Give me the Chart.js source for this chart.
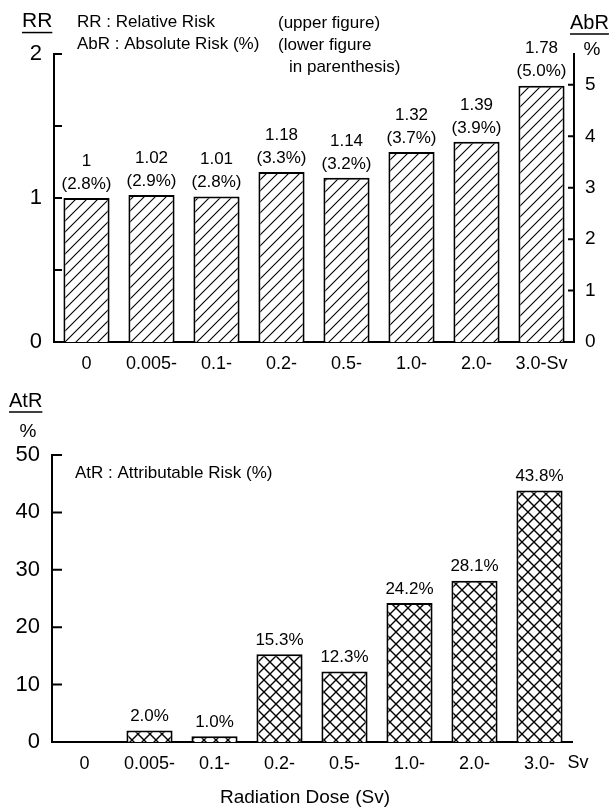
<!DOCTYPE html>
<html>
<head>
<meta charset="utf-8">
<script src="https://cdn.jsdelivr.net/npm/chart.js@4.4.0/dist/chart.umd.min.js"></script>
<style>
    html, body { margin: 0; padding: 0; background: #fff; }
    #wrap { position: relative; width: 616px; height: 810px; }
    canvas { position: absolute; left: 0; }
    #rrChart { top: 0; }
    #atrChart { top: 380px; }
</style>
</head>
<body>
<div id="wrap">
    <canvas id="rrChart" width="616" height="380"></canvas>
    <canvas id="atrChart" width="616" height="430"></canvas>
</div>
<script>
// Data
const doses = ['0', '0.005-', '0.1-', '0.2-', '0.5-', '1.0-', '2.0-', '3.0-'];
const relativeRisk = [1, 1.02, 1.01, 1.18, 1.14, 1.32, 1.39, 1.78];
const absoluteRisk = [2.8, 2.9, 2.8, 3.3, 3.2, 3.7, 3.9, 5.0];
const attributableRisk = [0, 2.0, 1.0, 15.3, 12.3, 24.2, 28.1, 43.8];
const rrRange = [0, 2];
const atrRange = [0, 50];

const FONT = '"Liberation Sans", Arial, Helvetica, sans-serif';
Chart.defaults.font.family = FONT;
Chart.defaults.color = '#000';

// right axis (AbR) is tied to RR through the baseline group: 1 <-> 2.8%
const abrMax = rrRange[1] * absoluteRisk[0] / relativeRisk[0];

// Hatch patterns
function makePattern(size, drawFn) {
    const c = document.createElement('canvas');
    c.width = size;
    c.height = size;
    const g = c.getContext('2d');
    g.fillStyle = '#fff';
    g.fillRect(0, 0, size, size);
    g.strokeStyle = '#000';
    drawFn(g, size);
    return c.getContext('2d').createPattern(c, 'repeat');
}

const diagonal = makePattern(11, (g, s) => {
    g.lineWidth = 1.1;
    g.beginPath();
    g.moveTo(-1, s + 1); g.lineTo(s + 1, -1);
    g.moveTo(-1, 1); g.lineTo(1, -1);
    g.moveTo(s - 1, s + 1); g.lineTo(s + 1, s - 1);
    g.stroke();
});

const crossHatch = makePattern(12, (g, s) => {
    g.lineWidth = 1.4;
    g.beginPath();
    g.moveTo(-1, s + 1); g.lineTo(s + 1, -1);
    g.moveTo(-1, -1); g.lineTo(s + 1, s + 1);
    g.stroke();
});

function text(ctx, str, x, y, size, align) {
    ctx.font = size + 'px ' + FONT;
    ctx.textAlign = align || 'left';
    ctx.textBaseline = 'middle';
    ctx.fillStyle = '#000';
    ctx.fillText(str, x, y);
}

function underlined(ctx, str, x, y, size) {
    text(ctx, str, x, y, size, 'left');
    const w = ctx.measureText(str).width;
    ctx.strokeStyle = '#000';
    ctx.lineWidth = 1.5;
    ctx.beginPath();
    ctx.moveTo(x, y + size * 0.55);
    ctx.lineTo(x + w, y + size * 0.55);
    ctx.stroke();
}

// inward tick marks drawn from each scale's own tick positions
function inwardTicks(ctx, scale, len, dir) {
    const x = dir > 0 ? scale.right : scale.left;
    ctx.strokeStyle = '#000';
    ctx.lineWidth = 2;
    ctx.beginPath();
    scale.ticks.forEach(t => {
        if (t.value === scale.min || t.value > scale.max - 0.5 && t.value !== Math.round(t.value)) return;
        const y = scale.getPixelForValue(t.value);
        ctx.moveTo(x, y);
        ctx.lineTo(x + dir * len, y);
    });
    ctx.stroke();
}

const rrDecor = {
    id: 'rrDecor',
    afterDraw(chart) {
        const ctx = chart.ctx;
        ctx.save();
        inwardTicks(ctx, chart.scales.y, 8, 1);
        inwardTicks(ctx, chart.scales.y1, 6, -1);

        const meta = chart.getDatasetMeta(0);
        meta.data.forEach((bar, i) => {
            text(ctx, String(relativeRisk[i]), bar.x, bar.y - 37, 17, 'center');
            text(ctx, '(' + absoluteRisk[i].toFixed(1) + '%)', bar.x, bar.y - 14, 17, 'center');
        });

        underlined(ctx, 'RR', 22, 21, 21);
        underlined(ctx, 'AbR', 570, 23, 20);
        text(ctx, '%', 592, 50, 19, 'center');

        text(ctx, 'RR : Relative Risk', 77, 22, 17);
        text(ctx, 'AbR : Absolute Risk (%)', 77, 44, 17);
        text(ctx, '(upper figure)', 278, 23, 17);
        text(ctx, '(lower figure', 278, 45, 17);
        text(ctx, 'in parenthesis)', 289, 67, 17);
        ctx.restore();
    }
};

const atrDecor = {
    id: 'atrDecor',
    afterDraw(chart) {
        const ctx = chart.ctx;
        ctx.save();
        inwardTicks(ctx, chart.scales.y, 10, 1);

        const meta = chart.getDatasetMeta(0);
        meta.data.forEach((bar, i) => {
            if (!attributableRisk[i]) return;
            text(ctx, attributableRisk[i].toFixed(1) + '%', bar.x, bar.y - 14, 17, 'center');
        });

        underlined(ctx, 'AtR', 9, 21, 20);
        text(ctx, '%', 28, 52, 19, 'center');
        text(ctx, 'AtR : Attributable Risk (%)', 75, 93, 17);
        text(ctx, 'Sv', 578, 383, 18, 'center');
        text(ctx, 'Radiation Dose (Sv)', 305, 418, 19, 'center');
        ctx.restore();
    }
};

const axisBorder = { display: true, color: '#000', width: 2 };
const noGrid = { display: false, drawTicks: false };

new Chart(document.getElementById('rrChart'), {
    type: 'bar',
    data: {
        labels: doses,
        datasets: [{
            data: relativeRisk,
            backgroundColor: diagonal,
            borderColor: '#000',
            borderWidth: 2,
            barPercentage: 0.71,
            categoryPercentage: 1
        }]
    },
    options: {
        responsive: false,
        animation: false,
        layout: { padding: { top: 54, left: 0, right: 0, bottom: 0 } },
        plugins: { legend: { display: false }, tooltip: { enabled: false } },
        scales: {
            x: {
                grid: noGrid,
                border: axisBorder,
                ticks: {
                    autoSkip: false,
                    maxRotation: 0,
                    padding: 11,
                    font: { size: 18 },
                    callback: (v, i) => i === doses.length - 1 ? doses[i] + 'Sv' : doses[i]
                },
                afterFit: s => { s.height = 38; }
            },
            y: {
                position: 'left',
                min: rrRange[0],
                max: rrRange[1],
                grid: noGrid,
                border: axisBorder,
                ticks: {
                    stepSize: 0.5,
                    padding: 12,
                    font: { size: 22 },
                    callback: v => Number.isInteger(v) ? v : ''
                },
                afterFit: s => { s.width = 54; }
            },
            y1: {
                position: 'right',
                min: 0,
                max: abrMax,
                grid: noGrid,
                border: axisBorder,
                ticks: {
                    stepSize: 1,
                    padding: 11,
                    font: { size: 19 },
                    callback: v => Number.isInteger(v) ? v : ''
                },
                afterFit: s => { s.width = 42; }
            }
        }
    },
    plugins: [rrDecor]
});

new Chart(document.getElementById('atrChart'), {
    type: 'bar',
    data: {
        labels: doses,
        datasets: [{
            data: attributableRisk,
            backgroundColor: crossHatch,
            borderColor: '#000',
            borderWidth: 2,
            barPercentage: 0.71,
            categoryPercentage: 1
        }]
    },
    options: {
        responsive: false,
        animation: false,
        layout: { padding: { top: 75, left: 0, right: 44, bottom: 0 } },
        plugins: { legend: { display: false }, tooltip: { enabled: false } },
        scales: {
            x: {
                grid: noGrid,
                border: axisBorder,
                ticks: { autoSkip: false, maxRotation: 0, padding: 11, font: { size: 18 } },
                afterFit: s => { s.height = 68; }
            },
            y: {
                min: atrRange[0],
                max: atrRange[1],
                grid: noGrid,
                border: axisBorder,
                ticks: { stepSize: 10, padding: 12, font: { size: 22 } },
                afterFit: s => { s.width = 52; }
            }
        }
    },
    plugins: [atrDecor]
});
</script>
</body>
</html>
